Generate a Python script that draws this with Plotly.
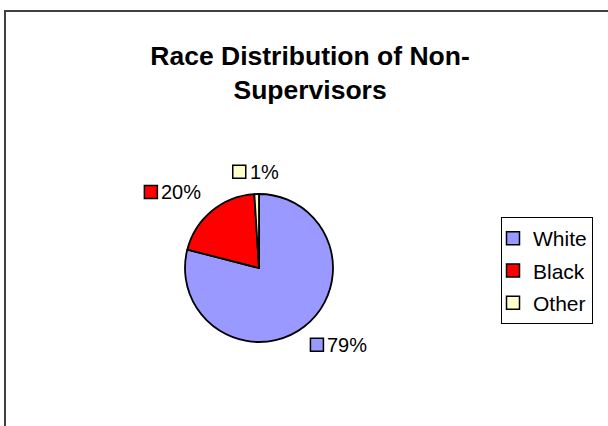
import math
import plotly.graph_objects as go

# ---- data ----
labels = ["White", "Black", "Other"]
values = [79, 20, 1]
pct_labels = ["79%", "20%", "1%"]
colors = ["#9999FF", "#FF0000", "#FFFFCC"]
title_text = "<b>Race Distribution of Non-<br>Supervisors</b>"

# ---- layout constants (pixels) ----
W, H = 608, 426
CX, CY, R = 259, 268, 74
FONT = "Liberation Sans, Arial, sans-serif"
LABEL_FS = 20
SQ = 13


def px(x):
    return x / W


def py(y):
    return 1 - y / H


CHAR_W = {"%": 0.889}


def text_w(s, fs):
    return sum(CHAR_W.get(ch, 0.556) for ch in s) * fs


fig = go.Figure()
fig.add_trace(go.Pie(
    labels=labels, values=values, sort=False, direction="clockwise", rotation=0,
    marker=dict(colors=colors, line=dict(color="black", width=1.8)),
    textinfo="none", hoverinfo="label+percent", showlegend=False,
    domain=dict(x=[px(CX - R), px(CX + R)], y=[py(CY + R), py(CY - R)]),
))

# legend entries (dummy traces so each can be spaced)
for lab, col in zip(labels, colors):
    fig.add_trace(go.Scatter(
        x=[None], y=[None], mode="markers", name=lab, legendgroup=lab,
        marker=dict(symbol="square", size=13, color=col, line=dict(color="black", width=1.5)),
    ))

shapes = []
annotations = []
total = sum(values)
cum = 0
for v, lab, col in zip(values, pct_labels, colors):
    mid = (cum + v / 2) / total * 2 * math.pi
    cum += v
    s, c = math.sin(mid), math.cos(mid)
    ax = CX + 1.2 * R * s
    ay = CY - 1.2 * R * c
    gw = SQ + 5 + text_w(lab, LABEL_FS)
    gh = 14
    if s > 0.3:
        left = ax - 3
    elif s < -0.3:
        left = ax - gw
    else:
        left = ax - gw / 2
    if c < -0.3:
        top = ay
    elif c > 0.3:
        top = ay - gh
    else:
        top = ay - gh / 2
    shapes.append(dict(type="rect", xref="paper", yref="paper",
                       x0=px(left), x1=px(left + SQ), y0=py(top + SQ), y1=py(top),
                       fillcolor=col, line=dict(color="black", width=1.5)))
    annotations.append(dict(x=px(left + SQ + 2), y=py(top + 6.5), xref="paper", yref="paper",
                            xanchor="left", yanchor="middle", text=lab, showarrow=False,
                            font=dict(family=FONT, size=LABEL_FS, color="black")))

# outer chart frame (top and left edges visible)
shapes.append(dict(type="rect", xref="paper", yref="paper", x0=px(5), x1=px(W + 10),
                   y0=py(H + 10), y1=py(11), line=dict(color="#404040", width=2),
                   fillcolor="rgba(0,0,0,0)", layer="above"))

fig.update_layout(
    width=W, height=H,
    margin=dict(l=0, r=0, t=0, b=0),
    paper_bgcolor="white", plot_bgcolor="white",
    font=dict(family=FONT, color="black"),
    title=dict(text=title_text, x=0.51, xanchor="center", y=py(65), yanchor="top",
               font=dict(family=FONT, size=26.5, color="black")),
    xaxis=dict(visible=False), yaxis=dict(visible=False),
    showlegend=True,
    legend=dict(x=px(501), y=py(217), xanchor="left", yanchor="top",
                bordercolor="black", borderwidth=1, bgcolor="white",
                font=dict(family=FONT, size=21, color="black"),
                tracegroupgap=2, indentation=-9, itemwidth=30),
    shapes=shapes, annotations=annotations,
)

fig.write_html("out.html", config={"displayModeBar": False},
               post_script="document.body.style.margin='0px';")
